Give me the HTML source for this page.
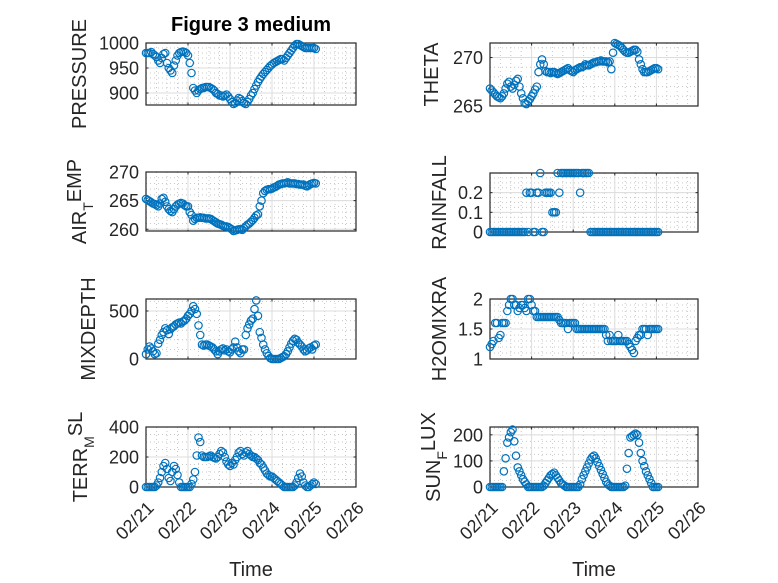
<!DOCTYPE html>
<html><head><meta charset="utf-8"><style>
html,body{margin:0;padding:0;background:#fff;}
svg{display:block;font-family:"Liberation Sans","DejaVu Sans",sans-serif;}
</style></head><body>
<svg id="fig" width="778" height="583" viewBox="0 0 778 583" xmlns="http://www.w3.org/2000/svg">
<rect width="778" height="583" fill="#fff"/>
<text x="251" y="31" text-anchor="middle" font-size="20" font-weight="bold" fill="#000">Figure 3 medium</text>
<text x="251" y="576" text-anchor="middle" font-size="20" fill="#262626">Time</text>
<text x="594" y="576" text-anchor="middle" font-size="20" fill="#262626">Time</text>
</svg>
<script>
const dayLabels = ["02/21","02/22","02/23","02/24","02/25","02/26"];
const pressure = [980,980,980,982,978,975,972,965,960,970,978,980,960,950,945,940,955,965,975,980,982,983,982,980,975,960,940,910,905,900,905,908,910,910,912,912,912,910,908,905,900,898,895,895,893,895,897,893,888,882,878,880,885,890,888,884,880,878,882,888,895,900,908,915,922,928,933,938,942,946,950,954,957,960,962,964,966,968,968,965,970,975,980,985,990,995,998,998,996,994,992,990,990,990,990,990,990,988];
const airTemp = [265.3,265.1,264.9,264.7,264.5,264.4,264.2,264,264.5,265.3,265.5,264.8,264,263.5,263.2,263,263.5,264,264.3,264.5,264.6,264.5,264.2,264,264,263,262.5,261.5,261.8,262,262,262.1,262,262,261.9,261.9,261.9,261.8,261.6,261.4,261.2,261,260.9,260.8,260.6,260.5,260.5,260.4,260.2,260,259.7,259.8,259.9,260,260,259.9,260.2,260.5,260.8,261,261.3,261.6,262,262.4,262.6,264,265,266.3,266.7,266.9,267,267,267.1,267.3,267.4,267.6,267.8,267.9,268,268,268.1,268.2,268,268,268,268,267.9,267.9,267.8,267.8,267.8,267.6,267.5,267.7,267.9,268,268.1,268];
const mixDepth = [50,100,130,110,80,50,60,160,200,250,280,320,300,260,310,330,340,360,370,380,370,390,400,420,450,470,500,550,520,470,350,250,150,140,150,150,140,130,120,100,80,50,80,100,110,90,100,80,70,100,120,180,120,80,60,100,100,250,320,360,400,420,520,610,450,280,220,150,100,60,30,10,0,0,0,0,0,10,20,30,50,80,120,160,190,210,200,170,150,130,100,80,90,110,120,100,140,150];
const terrMsl = [0,0,0,0,0,0,10,30,60,100,140,160,120,60,40,100,140,120,80,30,0,0,0,0,0,0,20,50,100,210,330,300,210,200,200,200,205,210,200,195,190,200,220,240,230,200,170,150,140,160,150,180,200,230,240,220,210,230,240,220,210,200,200,190,180,160,150,130,110,90,80,70,70,60,50,40,30,20,10,0,0,0,0,0,0,10,30,60,90,70,30,10,0,0,10,20,30,20];
const theta = [266.8,266.6,266.4,266.2,266,265.9,265.8,266,266.3,266.8,267.3,267.5,267,266.8,267.2,267.6,267.8,267,266.3,265.8,265.3,265.2,265.5,265.7,266,266.3,266.7,267,268.5,269.3,269.8,269.3,268.6,268.5,268.5,268.4,268.5,268.5,268.4,268.3,268.4,268.5,268.6,268.7,268.8,268.9,268.7,268.6,268.5,268.7,268.8,268.9,269,269,269.1,269.3,269.2,269.2,269.3,269.4,269.5,269.5,269.6,269.6,269.7,269.6,269.6,269.6,269.5,269.6,268.8,270.5,271.5,271.4,271.3,271.2,271,270.8,270.6,270.5,270.5,270.6,270.7,270.8,270.8,270.6,269.8,269.3,268.8,268.5,268.5,268.5,268.6,268.7,268.8,268.9,268.9,268.8];
const rainfall = [0,0,0,0,0,0,0,0,0,0,0,0,0,0,0,0,0,0,0,0,0,0.2,0,0.2,0.2,0,0,0.2,0.2,0.3,0,0,0.2,0.2,0.2,0.2,0.1,0.1,0.1,0.3,0.2,0.3,0.3,0.3,0.3,0.3,0.3,0.3,0.3,0.3,0.3,0.3,0.2,0.3,0.3,0.3,0.3,0.3,0,0,0,0,0,0,0,0,0,0,0,0,0,0,0,0,0,0,0,0,0,0,0,0,0,0,0,0,0,0,0,0,0,0,0,0,0,0,0,0];
const h2oMix = [1.2,1.25,1.3,1.6,1.6,1.35,1.4,1.6,1.6,1.6,1.8,1.9,2.0,2.0,1.9,1.9,1.8,1.85,1.9,1.9,1.85,1.8,2.0,2.0,1.9,1.8,1.8,1.7,1.7,1.7,1.7,1.7,1.7,1.7,1.7,1.7,1.7,1.7,1.7,1.7,1.65,1.6,1.6,1.6,1.6,1.5,1.6,1.6,1.6,1.6,1.5,1.5,1.5,1.5,1.5,1.5,1.5,1.5,1.5,1.5,1.5,1.5,1.5,1.5,1.5,1.5,1.5,1.4,1.3,1.4,1.3,1.3,1.3,1.3,1.4,1.3,1.3,1.3,1.3,1.3,1.25,1.2,1.15,1.1,1.3,1.35,1.4,1.4,1.5,1.5,1.5,1.4,1.5,1.5,1.5,1.5,1.5,1.5];
const sunFlux = [0,0,0,0,0,0,0,0,60,110,170,190,210,220,175,120,75,60,45,30,20,10,0,0,0,0,0,0,0,0,0,5,15,25,35,45,50,55,45,35,25,15,10,5,0,0,0,0,0,0,0,0,10,30,45,60,75,90,105,115,120,110,95,80,65,50,35,20,10,5,0,0,0,0,0,0,0,0,5,70,130,190,195,200,205,200,170,130,100,80,60,45,30,15,0,0,0,0];

const pressureTicks=[900,950,1000], airTicks=[260,265,270], mixTicks=[0,500], terrTicks=[0,200,400];
const thetaTicks=[265,270], rainTicks=[0,0.1,0.2], h2oTicks=[1,1.5,2], sunTicks=[0,100,200];

const NS="http://www.w3.org/2000/svg";
const svg=document.getElementById('fig');
function mk(tag,attrs,parent){const e=document.createElementNS(NS,tag);for(const k in attrs)e.setAttribute(k,attrs[k]);(parent||svg).appendChild(e);return e;}

const panels=[
 {name:'pressure',data:pressure,ticks:pressureTicks,ymin:876,ymax:1000,minor:10,x0:146,x1:356,y0:43,y1:105,label:['PRESSURE'],lx:86,bottom:false},
 {name:'air-temp',data:airTemp,ticks:airTicks,ymin:259.7,ymax:270,minor:1,x0:146,x1:356,y0:172,y1:231,label:['AIR','T','EMP'],lx:86,bottom:false},
 {name:'mixdepth',data:mixDepth,ticks:mixTicks,ymin:0,ymax:625,minor:100,x0:146,x1:356,y0:299,y1:359,label:['MIXDEPTH'],lx:95,bottom:false},
 {name:'terr-msl',data:terrMsl,ticks:terrTicks,ymin:0,ymax:400,minor:50,x0:146,x1:356,y0:427,y1:487,label:['TERR','M','SL'],lx:87,bottom:true},
 {name:'theta',data:theta,ticks:thetaTicks,ymin:265,ymax:271.5,minor:1,x0:490,x1:698,y0:43,y1:106,label:['THETA'],lx:438,bottom:false},
 {name:'rainfall',data:rainfall,ticks:rainTicks,ymin:0,ymax:0.3,minor:0.025,x0:490,x1:698,y0:173,y1:232,label:['RAINFALL'],lx:446,bottom:false},
 {name:'h2omixra',data:h2oMix,ticks:h2oTicks,ymin:1,ymax:2,minor:0.1,x0:490,x1:698,y0:299,y1:359,label:['H2OMIXRA'],lx:446,bottom:false},
 {name:'sun-flux',data:sunFlux,ticks:sunTicks,ymin:0,ymax:230,minor:25,x0:490,x1:698,y0:427,y1:487,label:['SUN','F','LUX'],lx:440,bottom:true}
];

panels.forEach(p=>{
  const g=mk('g',{});
  
  
  const nDays=dayLabels.length-1;
  const xs=h=>p.x0+(h/24)/nDays*(p.x1-p.x0);
  const ys=v=>p.y1-(v-p.ymin)/(p.ymax-p.ymin)*(p.y1-p.y0);
  for(let d=0;d<nDays;d++)for(let k=1;k<4;k++){const x=xs(d*24+k*6);
    const l=mk('line',{x1:x,x2:x,y1:p.y0,y2:p.y1,stroke:'#c8c8c8','stroke-width':1,'stroke-dasharray':'1 3'},g);
    }
  for(let v=Math.ceil(p.ymin/p.minor)*p.minor;v<p.ymax;v+=p.minor){const y=ys(v);
    const l=mk('line',{x1:p.x0,x2:p.x1,y1:y,y2:y,stroke:'#c8c8c8','stroke-width':1,'stroke-dasharray':'1 3'},g);
    }
  dayLabels.forEach((lab,i)=>{const x=xs(i*24);
    const l=mk('line',{x1:x,x2:x,y1:p.y0,y2:p.y1,stroke:'#dcdcdc','stroke-width':1},g);
    
    mk('line',{x1:x,x2:x,y1:p.y1,y2:p.y1-2.5,stroke:'#262626'},g);
    mk('line',{x1:x,x2:x,y1:p.y0,y2:p.y0+2.5,stroke:'#262626'},g);
    if(p.bottom){const tx=x+9, ty=p.y1+22;
      const t=mk('text',{x:tx,y:ty,'text-anchor':'end','font-size':18,fill:'#262626',transform:`rotate(-45 ${tx} ${ty})`},g);
      t.textContent=lab;}
  });
  p.ticks.forEach(v=>{const y=ys(v);
    const l=mk('line',{x1:p.x0,x2:p.x1,y1:y,y2:y,stroke:'#dcdcdc','stroke-width':1},g);
    
    mk('line',{x1:p.x0,x2:p.x0+2.5,y1:y,y2:y,stroke:'#262626'},g);
    mk('line',{x1:p.x1,x2:p.x1-2.5,y1:y,y2:y,stroke:'#262626'},g);
    const t=mk('text',{x:p.x0-7,y:y+6.5,'text-anchor':'end','font-size':18,fill:'#262626'},g);
    t.textContent=String(v);});
  const b=mk('rect',{x:p.x0,y:p.y0,width:p.x1-p.x0,height:p.y1-p.y0,fill:'none',stroke:'#262626','stroke-width':1.2},g);
  
  p.data.forEach((v,h)=>{const c=mk('circle',{cx:xs(h),cy:ys(v),r:3.7,fill:'none',stroke:'#0072BD','stroke-width':1.2},g);
    });
  const lx=p.lx, ly=(p.y0+p.y1)/2;
  const t=mk('text',{x:lx,y:ly,'text-anchor':'middle','font-size':20,fill:'#262626',transform:`rotate(-90 ${lx} ${ly})`},g);
  
  if(p.label.length===1){t.textContent=p.label[0];}
  else{const a=mk('tspan',{},t);a.textContent=p.label[0];
    const s=mk('tspan',{dy:7,'font-size':14},t);s.textContent=p.label[1];
    const c=mk('tspan',{dy:-12},t);c.textContent=p.label[2];}
});
</script>
</body></html>
